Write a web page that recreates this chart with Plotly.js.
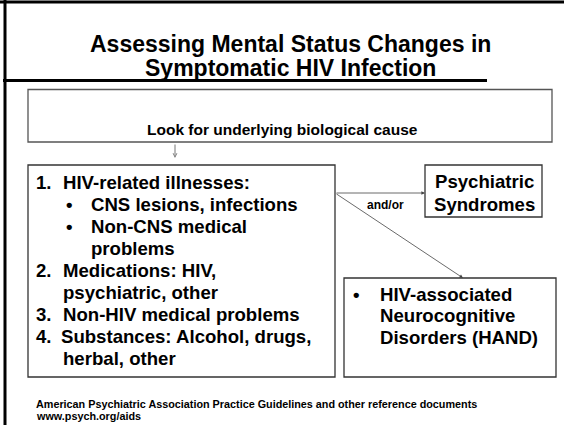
<!DOCTYPE html>
<html>
<head>
<meta charset="utf-8">
<script src="https://cdn.plot.ly/plotly-3.0.1.min.js"></script>
<style>html,body{margin:0;padding:0;background:#fff;}#chart{width:564px;height:425px;}</style>
</head>
<body>
<div id="chart"></div>
<script>
// ---- content ----
const titleLines = ["Assessing Mental Status Changes in", "Symptomatic HIV Infection"];
const topBoxText = "Look for underlying biological cause";
const causeNumbers = ["1.", "", "", "", "2.", "", "3.", "4.", ""];
const causeBullets = ["", "•", "•", "", "", "", "", "", ""];
const causeLines = [
  "HIV-related illnesses:",
  "CNS lesions, infections",
  "Non-CNS medical",
  "problems",
  "Medications: HIV,",
  "psychiatric, other",
  "Non-HIV medical problems",
  "Substances: Alcohol, drugs,",
  "herbal, other"
];
const causeIndent = [0, 1, 1, 1, 0, 0, 0, 0, 0];
const psychLines = ["Psychiatric", "Syndromes"];
const handLines = ["HIV-associated", "Neurocognitive", "Disorders (HAND)"];
const linkLabel = "and/or";
const footerLines = [
  "American Psychiatric Association Practice Guidelines and other reference documents",
  "www.psych.org/aids"
];

// ---- layout helpers ----
const FONT = "Liberation Sans, Arial, sans-serif";
const shapes = [];
const annotations = [];

function rect(x0, y0, x1, y1, color, w) {
  shapes.push({type: "rect", xref: "x", yref: "y", x0, y0, x1, y1,
    line: {color: color, width: w}, fillcolor: "rgba(0,0,0,0)"});
}
function line(x0, y0, x1, y1, color, w) {
  shapes.push({type: "line", xref: "x", yref: "y", x0, y0, x1, y1,
    line: {color: color, width: w}});
}
function text(t, x, y, size, anchor) {
  annotations.push({text: "<b>" + t + "</b>", x, y, xref: "x", yref: "y",
    showarrow: false, xanchor: anchor || "left", yanchor: "middle",
    font: {family: FONT, size: size, color: "#000"}});
}
function arrow(x0, y0, x1, y1, head, size, color, w) {
  annotations.push({text: "", x: x1, y: y1, ax: x0, ay: y0, xref: "x", yref: "y",
    axref: "x", ayref: "y", showarrow: true, arrowhead: head, arrowsize: size,
    arrowwidth: w, arrowcolor: color, standoff: 0, startstandoff: 0});
}

// outer frame
line(5, 0, 5, 425, "#000", 3);
line(0, 2, 564, 2, "#000", 3);
// title underline
line(3, 80.5, 487, 80.5, "#000", 3);

// title
titleLines.forEach((t, i) => text(t, 290, 43.5 + i * 24, 23, "center"));

// top box
rect(28, 89.5, 552, 142, "#555", 1.3);
text(topBoxText, 282, 129, 15.5, "center");
arrow(175, 143, 175, 158, 5, 0.8, "#777", 1);

// causes box
rect(28, 165, 335, 377, "#333", 1.3);
causeLines.forEach((t, i) => {
  const y = 182 + i * 22;
  if (causeNumbers[i]) text(causeNumbers[i], 34, y, 18.6, "left");
  if (causeBullets[i]) text(causeBullets[i], 64, y, 18.6, "left");
  const x = causeIndent[i] ? 89 : (i === 7 ? 59 : 61);
  text(t, x, y, 18.6, "left");
});

// psychiatric syndromes box
rect(425, 165, 542, 217, "#333", 1.3);
psychLines.forEach((t, i) => text(t, 484, 181 + i * 23, 18.6, "center"));

// HAND box
rect(344, 278, 556, 377, "#333", 1.3);
text("•", 351, 294, 18.6, "left");
handLines.forEach((t, i) => text(t, 378, 294 + i * 21.5, 18.6, "left"));

// connectors
arrow(335, 193, 425, 193, 2, 0.9, "#444", 0.8);
arrow(335, 193, 463, 278, 2, 0.9, "#444", 0.8);
text(linkLabel, 385, 205, 12, "center");

// footer
footerLines.forEach((t, i) => text(t, 34, 404 + i * 11.5, 10.8, "left"));

const layout = {
  width: 564, height: 425,
  margin: {l: 0, r: 0, t: 0, b: 0},
  paper_bgcolor: "#fff", plot_bgcolor: "#fff",
  showlegend: false,
  xaxis: {range: [0, 564], visible: false, fixedrange: true},
  yaxis: {range: [425, 0], visible: false, fixedrange: true},
  shapes, annotations
};
Plotly.newPlot("chart", [], layout, {staticPlot: true, displayModeBar: false});
</script>
</body>
</html>
